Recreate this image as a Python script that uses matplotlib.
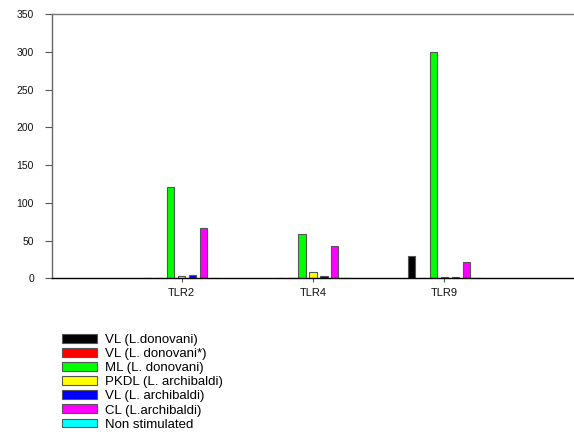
import matplotlib
matplotlib.use("Agg")
import matplotlib.pyplot as plt
import numpy as np

plt.rcParams["font.family"] = ["Liberation Sans", "DejaVu Sans"]

categories = ["TLR2", "TLR4", "TLR9"]
series_names = [
    "VL (L.donovani)",
    "VL (L. donovani*)",
    "ML (L. donovani)",
    "PKDL (L. archibaldi)",
    "VL (L. archibaldi)",
    "CL (L.archibaldi)",
    "Non stimulated",
]
series_colors = ["#000000", "#ff0000", "#00ff00", "#ffff00", "#0000ff", "#ff00ff", "#00ffff"]

vl_donovani = [0, 0, 30]
vl_donovani_star = [0, 0, 0]
ml_donovani = [121, 58, 300]
pkdl_archibaldi = [3, 8, 1.7]
vl_archibaldi = [5, 2.5, 1.5]
cl_archibaldi = [67, 43, 21]
non_stimulated = [0, 0, 0]

values = [vl_donovani, vl_donovani_star, ml_donovani, pkdl_archibaldi,
          vl_archibaldi, cl_archibaldi, non_stimulated]

fig = plt.figure(figsize=(5.74, 4.34), dpi=100)
ax = fig.add_axes([0.0906, 0.3588, 0.9094, 0.6089])

x = np.arange(1, len(categories) + 1)
step = 0.083
width = 0.055
for i, (name, col, vals) in enumerate(zip(series_names, series_colors, values)):
    ax.bar(x + (i - 3) * step, vals, width=width, color=col,
           edgecolor="#555555", linewidth=0.8, label=name, zorder=2)

ax.set_xlim(0.015, 3.985)
ax.set_ylim(0, 350)
ax.set_yticks(range(0, 351, 50))
ax.set_xticks(x)
ax.set_xticklabels(categories)
ax.tick_params(axis="y", labelsize=7.5, length=5, width=0.8, pad=8,
               colors="#555555", labelcolor="#111111")
ax.tick_params(axis="x", labelsize=8, length=3, width=0.8, pad=4,
               colors="#555555", labelcolor="#111111")
ax.spines["right"].set_visible(False)
ax.spines["top"].set_color("#777777")
ax.spines["left"].set_color("#666666")
ax.spines["bottom"].set_color("#000000")
for s in ax.spines.values():
    s.set_linewidth(1.0)

ax.legend(loc="upper left", bbox_to_anchor=(0.108, 0.231),
          bbox_transform=fig.transFigure, frameon=False, fontsize=9.5,
          handlelength=2.65, handleheight=0.65, labelspacing=0.16,
          handletextpad=0.6, borderpad=0, borderaxespad=0)

fig.savefig("out.png", dpi=100, facecolor="white")
